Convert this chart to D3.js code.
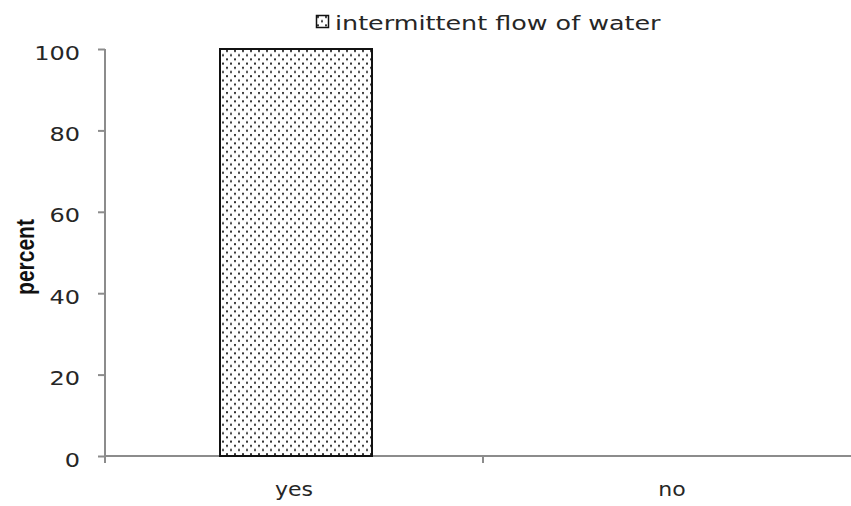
<!DOCTYPE html>
<html>
<head>
<meta charset="utf-8">
<script src="https://cdn.jsdelivr.net/npm/d3@7"></script>
<style>
  body { margin: 0; background: #fff; }
  .axis text { font-family: "DejaVu Sans", Verdana, sans-serif; font-size: 20px; fill: #262626; }
  .axis path, .axis line { stroke: #8c8c8c; stroke-width: 2px; }
</style>
</head>
<body>
<div id="chart"></div>
<script>
var categories = ["yes", "no"];
var values = [100, 0];
var yTicks = [0, 20, 40, 60, 80, 100];
var seriesName = "intermittent flow of water";

var W = 851, H = 506;
var margin = {top: 49, right: -10, bottom: 50, left: 105},
    width = W - margin.left - margin.right,
    height = H - margin.top - margin.bottom;

var svg = d3.select("#chart").append("svg")
    .attr("width", W)
    .attr("height", H);

// dotted fill
var defs = svg.append("defs");
var pat = defs.append("pattern")
    .attr("id", "dots")
    .attr("patternUnits", "userSpaceOnUse")
    .attr("width", 8).attr("height", 8.4);
pat.append("rect").attr("width", 8).attr("height", 8.4).attr("fill", "#fff");
pat.append("rect").attr("x", 1).attr("y", 1).attr("width", 2).attr("height", 2).attr("fill", "#333");
pat.append("rect").attr("x", 5).attr("y", 5.2).attr("width", 2).attr("height", 2).attr("fill", "#333");

var g = svg.append("g")
    .attr("transform", "translate(" + margin.left + "," + margin.top + ")");

var x = d3.scaleBand()
    .domain(categories)
    .range([0, width])
    .paddingInner(0)
    .paddingOuter(0);

var y = d3.scaleLinear()
    .domain([0, 100])
    .range([height, 0]);

// y axis, labels stretched a bit wider like the original
var ya = g.append("g")
    .attr("class", "axis")
    .call(d3.axisLeft(y).tickValues(yTicks).tickSize(7).tickSizeOuter(0))
    .call(function(a) { a.select(".domain").attr("d", "M0," + height + "V0"); });
ya.selectAll(".tick text")
    .attr("x", 0)
    .attr("dy", "0.5em")
    .attr("transform", "translate(-25,0) scale(1.2,1)");

// x axis with ticks at category boundaries
var xa = g.append("g")
    .attr("class", "axis")
    .attr("transform", "translate(0," + height + ")");
xa.append("line")
    .attr("x1", 0).attr("x2", width).attr("y1", 0).attr("y2", 0);
xa.selectAll(".tk")
    .data(categories.map(function(c) { return x(c); }).concat([width]))
    .enter().append("line")
    .attr("class", "tk")
    .attr("x1", function(d) { return d; }).attr("x2", function(d) { return d; })
    .attr("y1", 0).attr("y2", 7);
xa.selectAll(".lbl")
    .data(categories)
    .enter().append("text")
    .attr("class", "lbl")
    .attr("text-anchor", "middle")
    .attr("transform", function(d) {
      return "translate(" + (x(d) + x.bandwidth() / 2) + ",40) scale(1.1,1)";
    })
    .text(function(d) { return d; });

// bars
var barW = 152;
g.selectAll(".bar")
    .data(categories.map(function(c, i) { return {c: c, v: values[i]}; }).filter(function(d) { return d.v > 0; }))
    .enter().append("rect")
    .attr("class", "bar")
    .attr("x", function(d) { return x(d.c) + x.bandwidth() / 2 - barW / 2 + 2; })
    .attr("y", function(d) { return y(d.v); })
    .attr("width", barW)
    .attr("height", function(d) { return height - y(d.v); })
    .attr("fill", "url(#dots)")
    .attr("stroke", "#111")
    .attr("stroke-width", 2);

// y label
svg.append("text")
    .attr("transform", "translate(34,257) scale(1.25,1) rotate(-90)")
    .attr("text-anchor", "middle")
    .style("font-family", "'Liberation Sans', Arial, sans-serif")
    .style("font-weight", "bold")
    .style("font-size", "21px")
    .style("fill", "#111")
    .text("percent");

// legend
var lg = svg.append("g").attr("transform", "translate(316,15)");
lg.append("rect")
    .attr("x", 0.5).attr("y", 0.5)
    .attr("width", 12).attr("height", 12)
    .attr("fill", "url(#dots)")
    .attr("stroke", "#111")
    .attr("stroke-width", 1.5);
lg.append("text")
    .attr("transform", "translate(19,15) scale(1.27,1)")
    .style("font-family", "'DejaVu Sans', Verdana, sans-serif")
    .style("font-size", "20px")
    .style("fill", "#262626")
    .text(seriesName);
</script>
</body>
</html>
